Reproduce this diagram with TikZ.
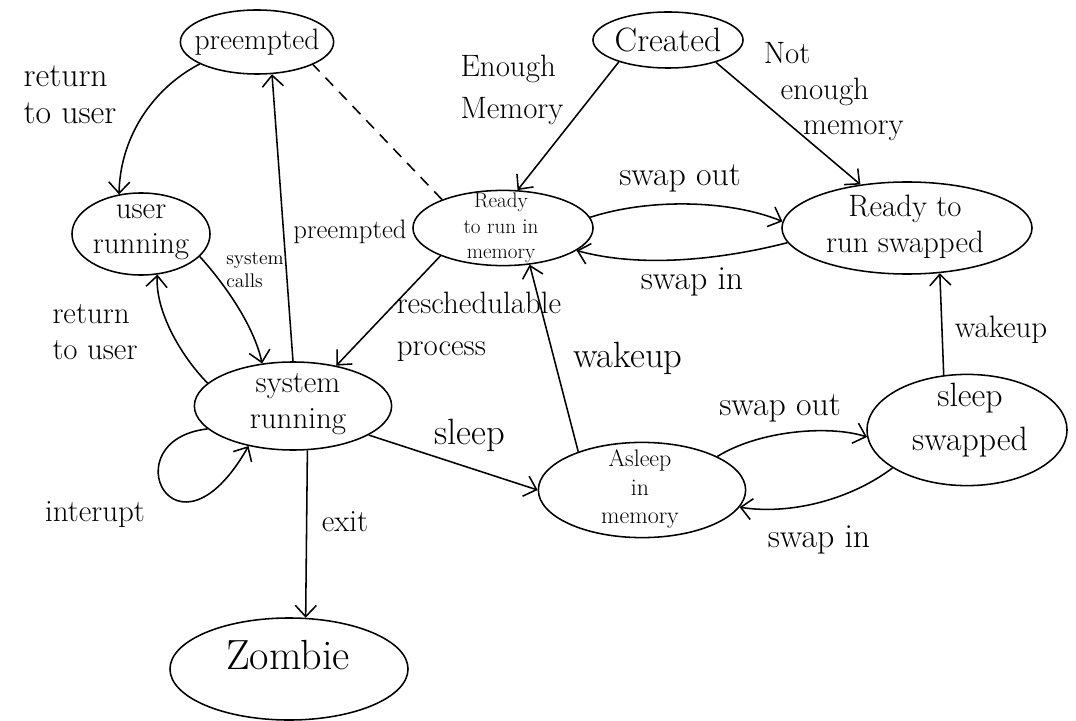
\documentclass[tikz,border=0pt]{standalone}
\usepackage{tikz}
\usetikzlibrary{arrows.meta,shapes.geometric}

\begin{document}
\begin{tikzpicture}[x=0.025cm, y=-0.025cm, line width=1.1pt,
  state/.style={draw, ellipse, inner sep=0pt},
  txt/.style={align=center, inner sep=0pt},
  lbl/.style={font=\fontsize{24}{26}\selectfont, align=left, inner sep=0pt},
  arr/.style={-{Straight Barb[length=8pt,width=15pt]}}]
\useasboundingbox (0,0) rectangle (1076,721);
%% states (ellipse first, text on top)
\node[state, minimum width=3.83cm, minimum height=1.6cm] (pre) at (257,42) {};
\node[txt, font=\fontsize{21}{22}\selectfont] (pre-t) at (pre) {preempted};
\node[state, minimum width=3.75cm, minimum height=1.4cm] (cre) at (668,40) {};
\node[txt, font=\fontsize{24}{24}\selectfont] (cre-t) at (cre) {Created};
\node[state, minimum width=3.45cm, minimum height=2.05cm] (usr) at (141,234) {};
\node[txt, font=\fontsize{22}{25}\selectfont] (usr-t) at (141,232) {user\\running};
\node[state, minimum width=4.5cm, minimum height=1.88cm] (rdm) at (503,228) {};
\node[txt, font=\fontsize{15}{18}\selectfont] (rdm-t) at (501,228) {Ready\\to run in\\memory};
\node[state, minimum width=6.25cm, minimum height=2.3cm] (rds) at (907,228) {};
\node[txt, font=\fontsize{22}{26}\selectfont] (rds-t) at (905,227) {Ready to\\run swapped};
\node[state, minimum width=4.93cm, minimum height=2.2cm] (sys) at (293,406) {};
\node[txt, font=\fontsize{22}{26}\selectfont] (sys-t) at (298,404) {system\\running};
\node[state, minimum width=5.18cm, minimum height=2.38cm] (slm) at (642,490) {};
\node[txt, font=\fontsize{17}{20}\selectfont] (slm-t) at (640,489) {Asleep\\in\\memory};
\node[state, minimum width=5cm, minimum height=2.78cm] (sls) at (967,430) {};
\node[txt, font=\fontsize{24}{31}\selectfont] (sls-t) at (970,420) {sleep\\swapped};
\node[state, minimum width=5.95cm, minimum height=2.55cm] (zmb) at (289,669) {};
\node[txt, font=\fontsize{30}{30}\selectfont] (zmb-t) at (288,655) {Zombie};
%% transitions
\draw[arr] (pre.201) .. controls (150,90) and (120,140) .. (usr.119);
\draw[arr] (sys.90) -- (pre.295);
\draw[dashed, dash pattern=on 8pt off 6pt] (rdm.155) -- (pre.338);
\draw[arr] (cre.204) -- (rdm.69);
\draw[arr] (cre.335) -- (rds.137);
\draw[arr] (rdm.7) .. controls (650,198) and (730,200) .. (rds.177);
\draw[arr] (rds.187) .. controls (720,260) and (640,268) .. (rdm.343);
\draw[arr] (usr.339) .. controls (230,290) and (255,330) .. (sys.126);
\draw[arr] (sys.165) .. controls (180,355) and (155,310) .. (usr.292);
\draw[arr] (rdm.204) -- (sys.43);
\draw[arr] (slm.149) -- (rdm.306);
\draw[arr] (sys.339) -- (slm.180);
\draw[arr] (sys.288) -- (zmb.72);
\draw[arr] (sys.195) .. controls (110,440) and (175,575) .. (sys.222);
\draw[arr] (slm.24) .. controls (760,430) and (830,425) .. (sls.184);
\draw[arr] (sls.207) .. controls (850,500) and (790,515) .. (slm.350);
\draw[arr] (sls.113) -- (rds.306);
%% labels
\node[lbl] (l-ret1) at (70,95) {return\\to user};
\node[lbl, font=\fontsize{19}{20}\selectfont] (l-pre) at (350,232) {preempted};
\node[lbl, font=\fontsize{22}{30}\selectfont] (l-enm) at (512,90) {Enough\\Memory};
\node[lbl, font=\fontsize{22}{25}\selectfont, anchor=north west] (l-nem) at (763,42)
  {Not\\\hspace*{12pt}enough\\\hspace*{28pt}memory};
\node[lbl] (l-so1) at (680,178) {swap out};
\node[lbl] (l-si1) at (692,282) {swap in};
\node[lbl, font=\fontsize{14}{17}\selectfont] (l-sc) at (255,270) {system\\calls};
\node[lbl, font=\fontsize{22}{26}\selectfont] (l-ret2) at (95,332) {return\\to user};
\node[lbl, font=\fontsize{22}{30}\selectfont, anchor=west] (l-rsp) at (396,327) {reschedulable\\process};
\node[lbl, font=\fontsize{26}{26}\selectfont] (l-wk1) at (628,358) {wakeup};
\node[lbl, font=\fontsize{26}{26}\selectfont] (l-slp) at (470,435) {sleep};
\node[lbl, font=\fontsize{22}{22}\selectfont] (l-ext) at (345,522) {exit};
\node[lbl, font=\fontsize{22}{22}\selectfont] (l-int) at (95,515) {interupt};
\node[lbl] (l-so2) at (780,408) {swap out};
\node[lbl] (l-si2) at (819,540) {swap in};
\node[lbl, font=\fontsize{22}{22}\selectfont] (l-wk2) at (1001,330) {wakeup};
\end{tikzpicture}
\end{document}
